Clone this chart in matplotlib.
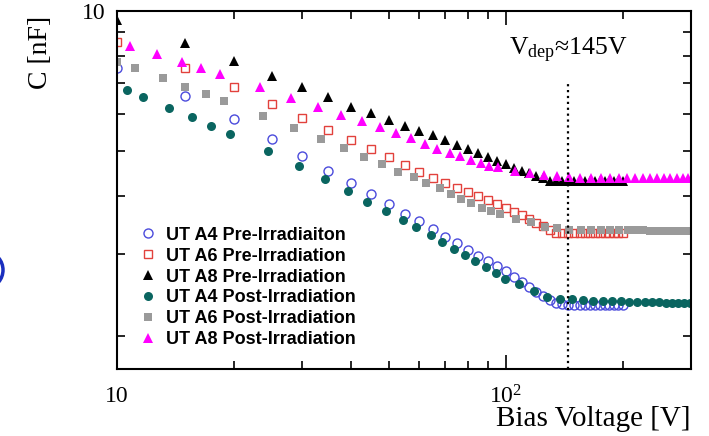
import matplotlib
matplotlib.use("Agg")
import matplotlib.pyplot as plt
from matplotlib.ticker import FixedLocator, FixedFormatter, LogLocator, NullFormatter
from matplotlib.patches import Ellipse

plt.rcParams['font.family'] = ['Liberation Serif', 'DejaVu Serif']
plt.rcParams['mathtext.fontset'] = 'custom'
plt.rcParams['mathtext.rm'] = 'Liberation Serif'
plt.rcParams['mathtext.it'] = 'Liberation Serif:italic'

# pre-irradiation: 5 V steps
v_pre = [10, 15, 20, 25, 30, 35, 40, 45, 50, 55, 60, 65, 70, 75, 80, 85, 90, 95, 100,
         105, 110, 115, 120, 125, 130, 135, 140, 145, 150, 155, 160, 165, 170, 175,
         180, 185, 190, 195, 200]
c_a4_pre = [7.55, 6.56, 5.85, 5.30, 4.88, 4.54, 4.27, 4.04, 3.84, 3.67, 3.54, 3.40, 3.27,
            3.17, 3.07, 2.98, 2.90, 2.83, 2.76, 2.68, 2.62, 2.55, 2.49, 2.44, 2.39, 2.36,
            2.34, 2.33, 2.33, 2.33, 2.33, 2.33, 2.33, 2.33, 2.33, 2.33, 2.33, 2.33, 2.33]
c_a6_pre = [8.58, 7.55, 6.85, 6.31, 5.90, 5.55, 5.28, 5.04, 4.85, 4.67, 4.51, 4.37, 4.26,
            4.16, 4.09, 4.00, 3.92, 3.85, 3.78, 3.70, 3.64, 3.57, 3.50, 3.45, 3.38, 3.34,
            3.33, 3.33, 3.33, 3.33, 3.33, 3.33, 3.33, 3.33, 3.33, 3.33, 3.33, 3.33, 3.33]
c_a8_pre = [9.56, 8.52, 7.82, 7.26, 6.85, 6.52, 6.23, 6.03, 5.83, 5.66, 5.53, 5.41, 5.28,
            5.15, 5.04, 4.94, 4.85, 4.76, 4.68, 4.60, 4.54, 4.48, 4.42, 4.37, 4.32, 4.30,
            4.30, 4.30, 4.30, 4.30, 4.30, 4.30, 4.30, 4.30, 4.30, 4.30, 4.30, 4.30, 4.30]

# post-irradiation
v_a4_post = [10.6, 11.7, 13.6, 15.6, 17.5, 19.5, 24.5, 29.4, 34.3, 39.3, 44.1, 49.1, 54.3,
             58.9, 64.4, 68.8, 73.6, 78.8, 83.2, 88.8, 94.3, 99.5, 108, 118, 128, 138, 148,
             158, 168, 178, 188, 198, 208, 218, 228, 238, 248, 258, 268, 278, 288, 298]
c_a4_post = [6.76, 6.54, 6.19, 5.91, 5.66, 5.44, 5.00, 4.64, 4.35, 4.11, 3.89, 3.71, 3.55,
             3.43, 3.30, 3.18, 3.08, 2.99, 2.90, 2.82, 2.74, 2.66, 2.59, 2.50, 2.43, 2.40,
             2.40, 2.39, 2.385, 2.38, 2.375, 2.375, 2.37, 2.37, 2.37, 2.365, 2.365, 2.36,
             2.36, 2.36, 2.355, 2.355]
v_a6_post = [10.0, 11.1, 13.1, 15.0, 16.9, 18.8, 23.8, 28.5, 33.4, 38.3, 43.2, 48.1, 52.9,
             58.0, 62.3, 67.7, 72.5, 76.9, 81.6, 87.1, 91.9, 96.5, 106.5, 116, 126, 136,
             146, 156, 166, 176, 186, 196, 206, 216, 226, 236, 246, 256, 266, 276, 286, 296]
c_a6_post = [7.78, 7.55, 7.19, 6.87, 6.62, 6.41, 5.95, 5.59, 5.30, 5.07, 4.86, 4.68, 4.51,
             4.40, 4.26, 4.16, 4.04, 3.94, 3.86, 3.78, 3.72, 3.67, 3.58, 3.52, 3.44, 3.41,
             3.39, 3.39, 3.38, 3.38, 3.38, 3.38, 3.38, 3.375, 3.375, 3.37, 3.37, 3.37,
             3.365, 3.365, 3.36, 3.36]
v_a8_post = [10.8, 12.7, 14.7, 16.5, 18.4, 23.3, 28.1, 32.9, 37.8, 42.6, 47.4, 52.1, 57.2,
             61.9, 66.6, 71.8, 76.5, 81.3, 86.2, 90.6, 95.5, 105.5, 115.5, 125.5, 135.5,
             145.5, 155.5, 165.5, 175.5, 185.5, 195.5, 205.5, 215.5, 225.5, 235.5, 245.5,
             255.5, 265.5, 275.5, 285.5, 295.5]
c_a8_post = [8.41, 8.07, 7.78, 7.55, 7.31, 6.85, 6.51, 6.23, 5.99, 5.80, 5.62, 5.46, 5.32,
             5.18, 5.04, 4.94, 4.88, 4.78, 4.72, 4.64, 4.61, 4.54, 4.49, 4.44, 4.42, 4.40,
             4.38, 4.38, 4.37, 4.37, 4.37, 4.37, 4.37, 4.37, 4.37, 4.37, 4.37, 4.37, 4.37,
             4.37, 4.37]

v_dep = 145

fig = plt.figure(figsize=(7.09, 4.36), dpi=100)
ax = fig.add_axes([0.165, 0.1537, 0.8096, 0.8211])

ax.plot(v_pre, c_a4_pre, 'o', mfc='none', mec='#4b4bdc', mew=1.0, ms=6.5,
        label='UT A4 Pre-Irradiaiton')
ax.plot(v_pre, c_a6_pre, 's', mfc='none', mec='#e2413c', mew=1.0, ms=6,
        label='UT A6 Pre-Irradiation')
ax.plot(v_pre, c_a8_pre, '^', color='black', ms=7, mew=0, label='UT A8 Pre-Irradiation')
ax.plot(v_a4_post, c_a4_post, 'o', color='#0a6560', ms=6.5, mew=0,
        label='UT A4 Post-Irradiation')
ax.plot(v_a6_post, c_a6_post, 's', color='#9a9a9a', ms=6, mew=0,
        label='UT A6 Post-Irradiation')
ax.plot(v_a8_post, c_a8_post, '^', color='#ff00ff', ms=7, mew=0,
        label='UT A8 Post-Irradiation')

ax.plot([v_dep, v_dep], [1.7, 7.0], ':', color='black', lw=1.6)
ax.text(v_dep, 8.04, r'$\mathrm{V_{dep}}$≈145V', ha='center', va='baseline', fontsize=18.5)

ax.set_xscale('log')
ax.set_yscale('log')
ax.set_xlim(10, 300)
ax.set_ylim(1.7, 10)

ax.xaxis.set_major_locator(FixedLocator([10, 100]))
ax.xaxis.set_major_formatter(FixedFormatter(['10', r'$10^2$']))
ax.xaxis.set_minor_locator(LogLocator(base=10, subs=range(2, 10)))
ax.xaxis.set_minor_formatter(NullFormatter())
ax.yaxis.set_major_locator(FixedLocator([10]))
ax.yaxis.set_major_formatter(FixedFormatter(['10']))
ax.yaxis.set_minor_locator(LogLocator(base=10, subs=range(2, 10)))
ax.yaxis.set_minor_formatter(NullFormatter())

ax.tick_params(which='both', direction='in', top=True, right=True, width=1.2, labelsize=17)
ax.tick_params(which='major', length=10)
ax.tick_params(which='minor', length=6)
ax.tick_params(axis='x', which='major', pad=12)
ax.tick_params(axis='y', which='major', pad=8)
for s in ax.spines.values():
    s.set_linewidth(1.5)

ax.set_ylabel('C [nF]', fontsize=20, va='center')
ax.yaxis.set_label_coords(-0.134, 0.885)
ax.set_xlabel('Bias Voltage [V]', fontsize=21, ha='right', va='center')
ax.xaxis.set_label_coords(1.0, -0.14)

leg = ax.legend(loc='upper left', bbox_to_anchor=(0.025, 0.418), frameon=False,
                handlelength=1.0, handletextpad=0.5, labelspacing=0.22, borderaxespad=0,
                prop={'family': 'Liberation Sans', 'weight': 'bold', 'size': 13})

# blue ring cut off at the left edge of the screenshot
fig.patches.append(Ellipse((-12 / 709, 1 - 270 / 436), 30 / 709, 34 / 436, fill=False,
                           ec='#1a2fbf', lw=2.5, transform=fig.transFigure, figure=fig))

fig.savefig('out.png', dpi=100)
